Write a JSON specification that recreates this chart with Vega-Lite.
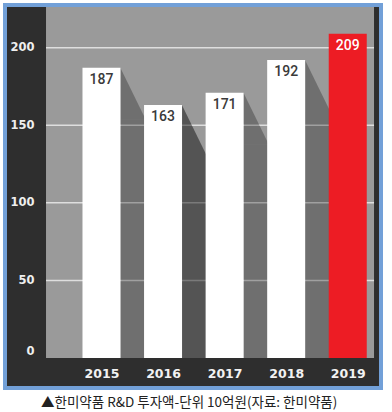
{
  "$schema": "https://vega.github.io/schema/vega-lite/v6.json",
  "width": 376,
  "height": 383,
  "autosize": "none",
  "padding": {"left": 5, "top": 5, "right": 11, "bottom": 24},
  "background": "white",
  "config": {"view": {"fill": "#2e2e2e", "stroke": "#72a0d8", "strokeWidth": 4}},
  "title": {"text": "▲한미약품 R&D 투자액-단위 10억원(자료: 한미약품)", "orient": "bottom", "anchor": "start", "dx": 36, "offset": 8, "font": "Noto Sans CJK KR", "fontSize": 13.5, "fontWeight": "normal", "color": "#222222"},
  "datasets": {
    "rd": [
      {"year": 2015, "value": 187},
      {"year": 2016, "value": 163},
      {"year": 2017, "value": 171},
      {"year": 2018, "value": 192},
      {"year": 2019, "value": 209}
    ],
    "grid": [{"tick": 50}, {"tick": 100}, {"tick": 150}, {"tick": 200}],
    "one": [{"k": 1}]
  },
  "layer": [
    {
      "data": {"name": "one"},
      "mark": {"type": "rect", "fill": "#9a9a9a"},
      "encoding": {
        "x": {"datum": 2014.099, "type": "quantitative", "scale": {"domain": [2013.514, 2019.459], "nice": false, "zero": false}, "title": null},
        "x2": {"datum": 2019.427},
        "y": {"datum": 0, "type": "quantitative", "scale": {"domain": [-19.34, 227.5], "nice": false, "zero": false}, "title": null},
        "y2": {"datum": 226.2}
      }
    },
    {
      "data": {"name": "grid"},
      "mark": {"type": "rule", "color": "#dedede", "strokeWidth": 1.5},
      "encoding": {
        "x": {"datum": 2014.099, "type": "quantitative", "scale": {"domain": [2013.514, 2019.459], "nice": false, "zero": false}, "title": null},
        "x2": {"datum": 2019.427},
        "y": {"field": "tick", "type": "quantitative", "scale": {"domain": [-19.34, 227.5], "nice": false, "zero": false}, "title": null}
      }
    },
    {
      "data": {"name": "rd"},
      "transform": [{"filter": "datum.year < 2019"}],
      "mark": {"type": "bar", "orient": "vertical", "width": 25.5, "xOffset": 31.6, "yOffset": 52, "y2Offset": 0.01, "fill": "black"},
      "encoding": {
        "x": {"field": "year", "type": "quantitative", "scale": {"domain": [2013.514, 2019.459], "nice": false, "zero": false}, "title": null},
        "y": {"field": "value", "type": "quantitative", "scale": {"domain": [-19.34, 227.5], "nice": false, "zero": false}, "title": null},
        "y2": {"datum": 0},
        "fillOpacity": {"condition": {"test": "datum.year == 2016", "value": 0.45}, "value": 0.28}
      }
    },
    {
      "data": {"name": "rd"},
      "transform": [{"filter": "datum.year < 2019"}],
      "mark": {"type": "point", "shape": "M-0.49,-1L0.49,1L-0.49,1Z", "size": 2704, "filled": true, "fill": "black", "strokeWidth": 0, "opacity": 1, "xOffset": 31.6, "yOffset": 26},
      "encoding": {
        "x": {"field": "year", "type": "quantitative", "scale": {"domain": [2013.514, 2019.459], "nice": false, "zero": false}, "title": null},
        "y": {"field": "value", "type": "quantitative", "scale": {"domain": [-19.34, 227.5], "nice": false, "zero": false}, "title": null},
        "fillOpacity": {"condition": {"test": "datum.year == 2016", "value": 0.45}, "value": 0.28}
      }
    },
    {
      "data": {"name": "rd"},
      "mark": {"type": "bar", "orient": "vertical", "width": 38},
      "encoding": {
        "x": {"field": "year", "type": "quantitative", "scale": {"domain": [2013.514, 2019.459], "nice": false, "zero": false},
          "axis": {"values": [2015, 2016, 2017, 2018, 2019], "format": "d", "orient": "bottom", "offset": -28, "domain": false, "ticks": false, "grid": false, "labelColor": "#f2f2f2", "labelFont": "DejaVu Sans", "labelFontWeight": "bold", "labelFontSize": 12.5, "labelPadding": 7, "labelBaseline": "top", "labelFlush": false, "labelOverlap": false, "title": null}},
        "y": {"field": "value", "type": "quantitative", "scale": {"domain": [-19.34, 227.5], "nice": false, "zero": false},
          "axis": {"values": [0, 50, 100, 150, 200], "orient": "left", "offset": -37, "domain": false, "ticks": false, "grid": false, "labelColor": "#eeeeee", "labelFont": "DejaVu Sans", "labelFontWeight": "bold", "labelFontSize": 11.5, "labelPadding": 8, "labelBaseline": "middle", "labelOffset": {"condition": {"test": "datum.value == 0", "value": -6}, "value": 0}, "title": null}},
        "color": {"condition": {"test": "datum.year == 2019", "value": "#ed1c24"}, "value": "#ffffff"}
      }
    },
    {
      "data": {"name": "rd"},
      "mark": {"type": "text", "baseline": "middle", "dy": 12, "font": "Roboto", "fontSize": 14, "fontWeight": 500},
      "encoding": {
        "x": {"field": "year", "type": "quantitative", "scale": {"domain": [2013.514, 2019.459], "nice": false, "zero": false}, "title": null},
        "y": {"field": "value", "type": "quantitative", "scale": {"domain": [-19.34, 227.5], "nice": false, "zero": false}, "title": null},
        "text": {"field": "value", "type": "quantitative"},
        "color": {"condition": {"test": "datum.year == 2019", "value": "#ffffff"}, "value": "#3a3a3a"}
      }
    }
  ]
}
